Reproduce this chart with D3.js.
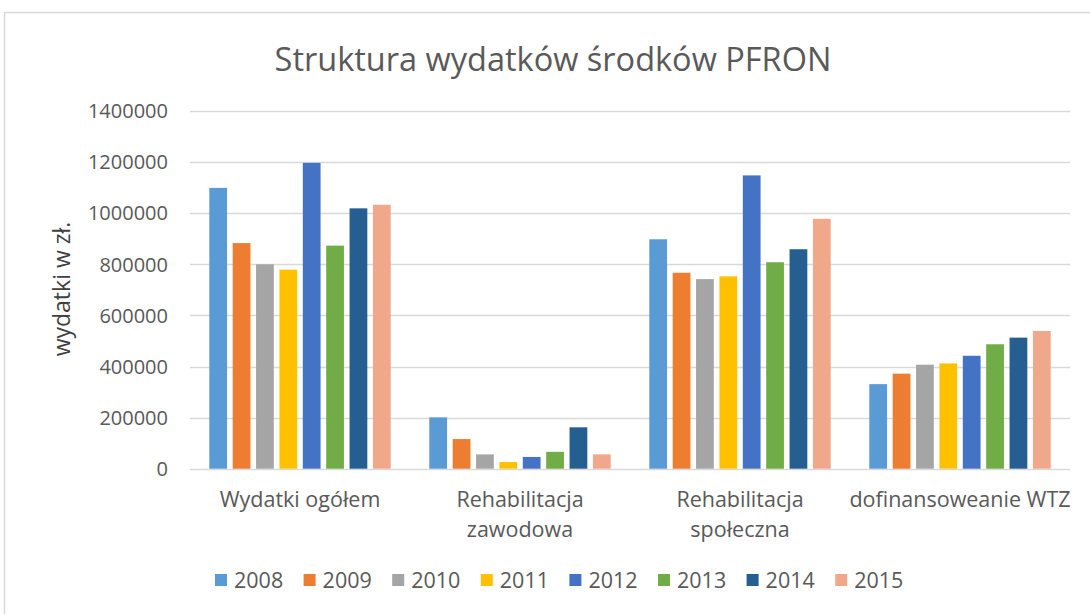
<!DOCTYPE html>
<html>
<head>
<meta charset="utf-8">
<script src="https://cdn.jsdelivr.net/npm/d3@7"></script>
<style>
  body { margin: 0; background: #fff; }
  text { font-family: "Open Sans", sans-serif; fill: #595959; }
</style>
</head>
<body>
<svg width="1090" height="614"></svg>
<script>
var categories = [
  ["Wydatki ogółem"],
  ["Rehabilitacja", "zawodowa"],
  ["Rehabilitacja", "społeczna"],
  ["dofinansoweanie WTZ"]
];
var years = ["2008", "2009", "2010", "2011", "2012", "2013", "2014", "2015"];
var colors = ["#5b9bd5", "#ed7d31", "#a5a5a5", "#ffc000", "#4472c4", "#70ad47", "#255e91", "#f1a78a"];

// one array per category, values by year 2008..2015
var wydatkiOgolem = [1099000, 883000, 800000, 779000, 1197000, 873000, 1019000, 1033000];
var rehabZawodowa = [201000, 116000, 56000, 26000, 46000, 66000, 162000, 56000];
var rehabSpoleczna = [898000, 767000, 742000, 753000, 1148000, 808000, 859000, 978000];
var dofinansowanieWTZ = [331000, 372000, 407000, 412000, 442000, 487000, 513000, 539000];
var series = [wydatkiOgolem, rehabZawodowa, rehabSpoleczna, dofinansowanieWTZ];

var yTicks = [0, 200000, 400000, 600000, 800000, 1000000, 1200000, 1400000];

var svg = d3.select("svg"),
  width = +svg.attr("width"),
  height = +svg.attr("height");

// chart frame
svg.append("rect")
  .attr("x", 4.5)
  .attr("y", 12.5)
  .attr("width", 1100)
  .attr("height", 620)
  .attr("fill", "#fff")
  .attr("stroke", "#d9d9d9")
  .attr("stroke-width", 1.5);

var plotLeft = 190, plotRight = 1070, plotTop = 111, plotBottom = 468.7;

var x0 = d3.scaleBand()
  .domain(d3.range(categories.length))
  .range([plotLeft, plotRight])
  .paddingInner(0.15)
  .paddingOuter(0.075);

var x1 = d3.scaleBand()
  .domain(years)
  .range([0, x0.bandwidth()])
  .paddingInner(0.24)
  .paddingOuter(0.12);

var y = d3.scaleLinear()
  .domain([0, 1400000])
  .range([plotBottom, plotTop]);

// gridlines
svg.append("g")
  .selectAll("line")
  .data(yTicks)
  .enter()
  .append("line")
  .attr("x1", plotLeft)
  .attr("x2", plotRight)
  .attr("y1", function (d) { return Math.round(y(d)) + 0.5; })
  .attr("y2", function (d) { return Math.round(y(d)) + 0.5; })
  .attr("stroke", "#d9d9d9")
  .attr("stroke-width", 1.5);

// y tick labels
svg.append("g")
  .selectAll("text")
  .data(yTicks)
  .enter()
  .append("text")
  .attr("x", 168)
  .attr("y", function (d) { return y(d); })
  .attr("dy", "0.36em")
  .attr("text-anchor", "end")
  .style("font-size", "20px")
  .text(function (d) { return d; });

// bars
var groups = svg.append("g")
  .selectAll("g")
  .data(series)
  .enter()
  .append("g")
  .attr("transform", function (d, i) { return "translate(" + x0(i) + ",0)"; });

groups.selectAll("rect")
  .data(function (d) { return d; })
  .enter()
  .append("rect")
  .attr("x", function (d, j) { return x1(years[j]); })
  .attr("y", function (d) { return y(d); })
  .attr("width", x1.bandwidth())
  .attr("height", function (d) { return y(0) - y(d); })
  .attr("fill", function (d, j) { return colors[j]; });

// category labels
var catLabels = svg.append("g")
  .selectAll("text")
  .data(categories)
  .enter()
  .append("text")
  .attr("x", function (d, i) { return x0(i) + x0.bandwidth() / 2; })
  .attr("y", 507)
  .attr("text-anchor", "middle")
  .style("font-size", "21.5px");

catLabels.selectAll("tspan")
  .data(function (d) { return d; })
  .enter()
  .append("tspan")
  .attr("x", function () { return d3.select(this.parentNode).attr("x"); })
  .attr("dy", function (d, k) { return k === 0 ? 0 : 30; })
  .text(function (d) { return d; });

// title
svg.append("text")
  .attr("x", 553)
  .attr("y", 71)
  .attr("text-anchor", "middle")
  .style("font-size", "32.5px")
  .text("Struktura wydatków środków PFRON");

// y axis title
svg.append("text")
  .attr("transform", "translate(70,289) rotate(-90)")
  .attr("text-anchor", "middle")
  .style("font-size", "23px")
  .style("fill", "#404040")
  .text("wydatki w zł.");

// legend
var legend = svg.append("g")
  .selectAll("g")
  .data(years)
  .enter()
  .append("g")
  .attr("transform", function (d, i) { return "translate(" + (215 + i * 88.6) + ",580)"; });

legend.append("rect")
  .attr("x", 0)
  .attr("y", -6)
  .attr("width", 12)
  .attr("height", 12)
  .attr("fill", function (d, i) { return colors[i]; });

legend.append("text")
  .attr("x", 19)
  .attr("y", 0)
  .attr("dy", "0.36em")
  .style("font-size", "21.5px")
  .text(function (d) { return d; });
</script>
</body>
</html>
